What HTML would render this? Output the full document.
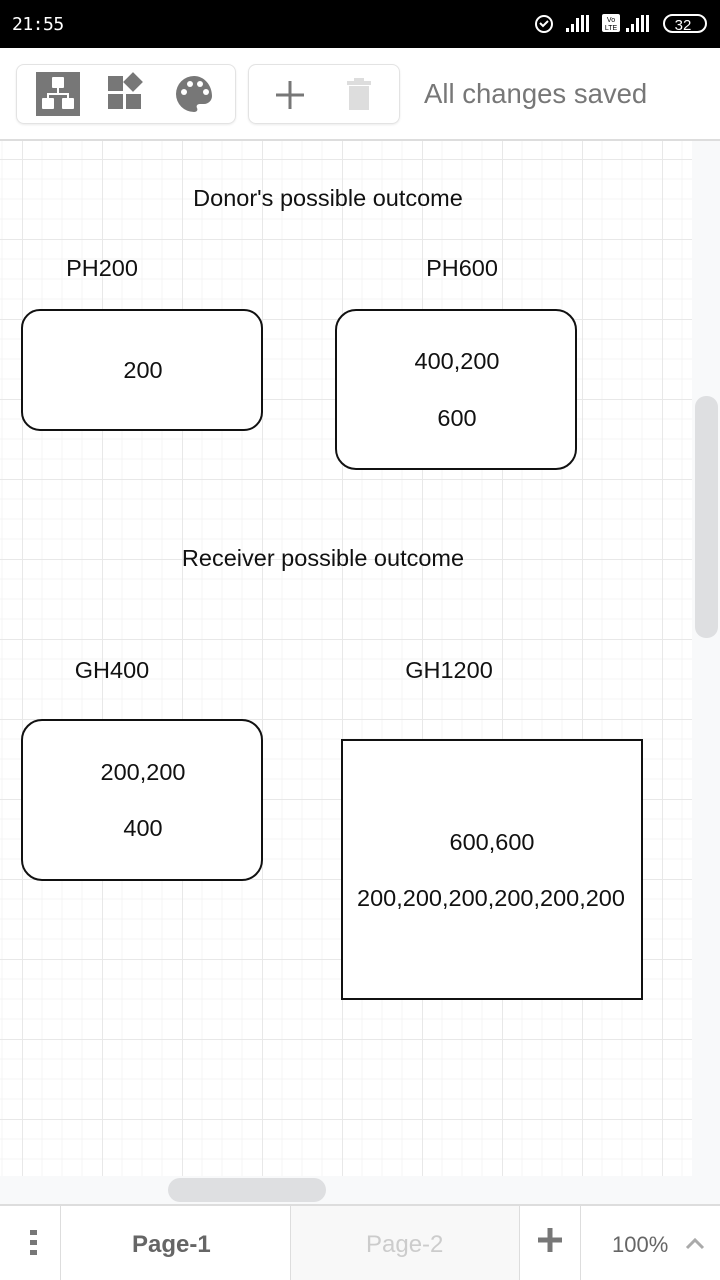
<!DOCTYPE html>
<html><head><meta charset="utf-8"><style>
*{margin:0;padding:0;box-sizing:border-box}
body{width:720px;height:1280px;overflow:hidden;background:#fff;font-family:"Liberation Sans",Roboto,sans-serif;position:relative}
.a{position:absolute}
</style></head><body>
<div class="a" style="left:0;top:0;width:720px;height:48px;background:#000;color:#fff">
<div class="a" style="left:12px;top:14px;font-size:18px;font-family:'DejaVu Sans Mono','Liberation Mono',monospace;letter-spacing:-0.5px">21:55</div>
<svg class="a" style="left:530px;top:10px" width="185" height="28" viewBox="0 0 185 28">
<circle cx="14" cy="14" r="8" fill="none" stroke="#fff" stroke-width="2"/><path d="M10 13l3 3 5-5" stroke="#fff" stroke-width="2" fill="none"/>
<rect x="36" y="18" width="3" height="4" fill="#fff"/><rect x="41" y="14" width="3" height="8" fill="#fff"/><rect x="46" y="8" width="3" height="14" fill="#fff"/><rect x="51" y="5" width="3" height="17" fill="#fff"/><rect x="56" y="5" width="3" height="17" fill="#fff"/>
<rect x="72" y="4" width="18" height="18" rx="2" fill="#fff"/><text x="81" y="12" font-size="7" text-anchor="middle" fill="#000" font-family="Liberation Sans">Vo</text><text x="81" y="20" font-size="7" text-anchor="middle" fill="#000" font-family="Liberation Sans">LTE</text>
<rect x="96" y="18" width="3" height="4" fill="#fff"/><rect x="101" y="14" width="3" height="8" fill="#fff"/><rect x="106" y="8" width="3" height="14" fill="#fff"/><rect x="111" y="5" width="3" height="17" fill="#fff"/><rect x="116" y="5" width="3" height="17" fill="#fff"/>
<rect x="134" y="5" width="42" height="17" rx="8.5" fill="none" stroke="#fff" stroke-width="2"/><text x="153" y="20" font-size="15" text-anchor="middle" fill="#fff" font-family="Liberation Sans">32</text>
</svg></div>
<div class="a" style="left:16px;top:64px;width:220px;height:60px;border:1px solid #e3e3e3;border-radius:8px;box-shadow:0 1px 2px rgba(0,0,0,.08)"></div>
<div class="a" style="left:248px;top:64px;width:152px;height:60px;border:1px solid #e3e3e3;border-radius:8px;box-shadow:0 1px 2px rgba(0,0,0,.08)"></div>
<svg class="a" style="left:0;top:48px" width="420" height="90">
<rect x="36" y="24" width="44" height="44" fill="#777"/>
<rect x="52" y="29" width="12" height="11" rx="1" fill="#fff"/><rect x="42" y="50" width="12" height="11" rx="1" fill="#fff"/><rect x="62" y="50" width="12" height="11" rx="1" fill="#fff"/>
<path d="M58 40v6M48 50v-4h20v4" stroke="#fff" stroke-width="2" fill="none"/>
<rect x="108" y="28" width="15" height="15" fill="#777"/><rect x="126" y="27" width="14" height="14" fill="#777" transform="rotate(45 133 34)"/><rect x="108" y="46" width="15" height="15" fill="#777"/><rect x="126" y="46" width="15" height="15" fill="#777"/>
<path d="M194 28a18 18 0 1 0 0 36c3 0 4-2 3-4-1-2 0-4 3-4h4a8 8 0 0 0 8-8c0-11-8-20-18-20z" fill="#777"/>
<circle cx="184" cy="44" r="3" fill="#fff"/><circle cx="190" cy="36" r="3" fill="#fff"/><circle cx="200" cy="36" r="3" fill="#fff"/><circle cx="206" cy="44" r="3" fill="#fff"/>
<path d="M290 33v28M276 47h28" stroke="#777" stroke-width="3"/>
<rect x="347" y="33" width="24" height="4" fill="#ddd"/><rect x="354" y="30" width="10" height="4" fill="#ddd"/><rect x="349" y="38" width="20" height="24" fill="#ddd"/>
</svg>
<div class="a" style="left:424px;top:78px;font-size:27.5px;color:#777">All changes saved</div>
<div class="a" style="left:0;top:139px;width:720px;height:2px;background:#ddd"></div>
<svg class="a" style="left:0;top:141px" width="720" height="1035">
<defs><pattern id="g" x="22" y="18" width="80" height="80" patternUnits="userSpaceOnUse">
<path d="M20 0V80M40 0V80M60 0V80M0 20H80M0 40H80M0 60H80" stroke="#f4f4f4" stroke-width="1"/>
<path d="M0.5 0V80M0 0.5H80" stroke="#e8e8e8" stroke-width="1"/></pattern></defs>
<rect width="692" height="1035" fill="#fff"/><rect width="692" height="1035" fill="url(#g)"/>
<rect x="692" width="28" height="1035" fill="#f8f9fa"/>
<rect x="695" y="255" width="23" height="242" rx="11" fill="#dedfe1"/>
<g font-family="Liberation Sans" font-size="23.5" fill="#111" text-anchor="middle">
<text x="328" y="65">Donor's possible outcome</text>
<text x="102" y="135">PH200</text><text x="462" y="135">PH600</text>
<rect x="22" y="169" width="240" height="120" rx="18" fill="#fff" stroke="#111" stroke-width="2"/>
<text x="143" y="237">200</text>
<rect x="336" y="169" width="240" height="159" rx="20" fill="#fff" stroke="#111" stroke-width="2"/>
<text x="457" y="228">400,200</text><text x="457" y="285">600</text>
<text x="323" y="425">Receiver possible outcome</text>
<text x="112" y="537">GH400</text><text x="449" y="537">GH1200</text>
<rect x="22" y="579" width="240" height="160" rx="20" fill="#fff" stroke="#111" stroke-width="2"/>
<text x="143" y="639">200,200</text><text x="143" y="695">400</text>
<rect x="342" y="599" width="300" height="259" fill="#fff" stroke="#111" stroke-width="2"/>
<text x="492" y="709">600,600</text><text x="491" y="765">200,200,200,200,200,200</text>
</g></svg>
<div class="a" style="left:0;top:1176px;width:720px;height:28px;background:#f8f9fa"></div>
<div class="a" style="left:168px;top:1178px;width:158px;height:24px;border-radius:12px;background:#dedfe1"></div>
<div class="a" style="left:0;top:1204px;width:720px;height:2px;background:#ddd"></div>
<div class="a" style="left:0;top:1206px;width:720px;height:74px;background:#fff"></div>
<div class="a" style="left:60px;top:1206px;width:1px;height:74px;background:#ddd"></div>
<div class="a" style="left:290px;top:1206px;width:230px;height:74px;background:#f8f8f8;border-left:1px solid #ddd;border-right:1px solid #ddd"></div>
<div class="a" style="left:580px;top:1206px;width:1px;height:74px;background:#ddd"></div>
<div class="a" style="left:30px;top:1230px;width:7px;height:5px;background:#777;box-shadow:0 10px 0 #777,0 20px 0 #777"></div>
<div class="a" style="left:132px;top:1231px;font-size:24px;font-weight:bold;color:#666">Page-1</div>
<div class="a" style="left:366px;top:1231px;font-size:24px;color:#ccc">Page-2</div>
<svg class="a" style="left:536px;top:1226px" width="30" height="30"><path d="M14 2v24M2 14h24" stroke="#777" stroke-width="5"/></svg>
<div class="a" style="left:612px;top:1232px;font-size:22px;color:#666">100%</div>
<svg class="a" style="left:684px;top:1236px" width="22" height="16"><path d="M3 12l8-8 8 8" stroke="#aaa" stroke-width="3" fill="none"/></svg>
</body></html>
